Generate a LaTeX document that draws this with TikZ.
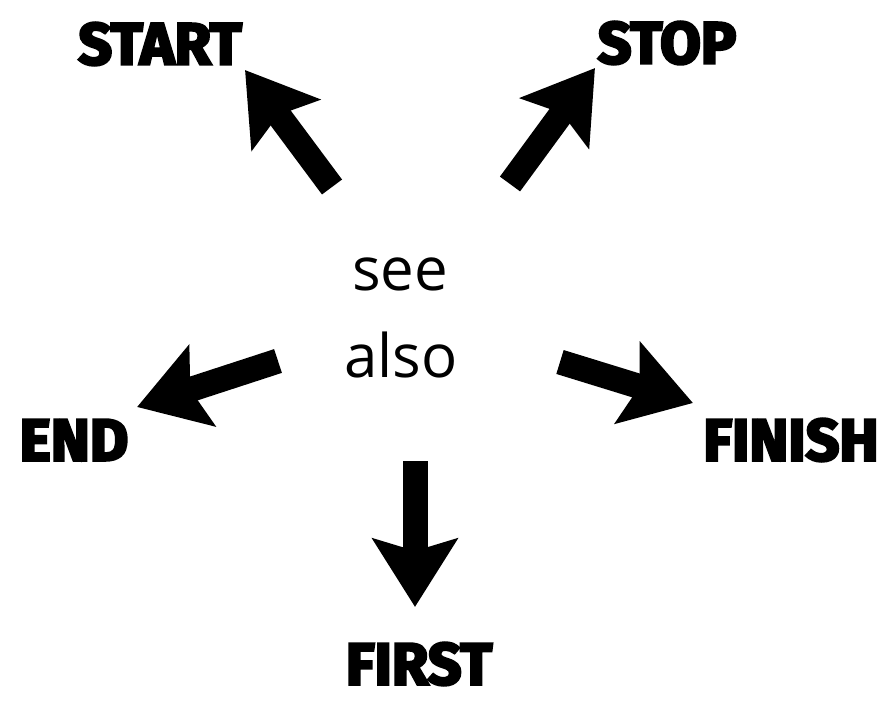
\documentclass[tikz,border=0pt]{standalone}
\usepackage{fontspec}
\setmainfont{Open Sans}
\newfontfamily\heavyfont{Fira Sans}
\usetikzlibrary{arrows.meta}
\tikzset{
  lbl/.style={font=\heavyfont\bfseries\fontsize{59}{59}\selectfont, inner sep=0pt,
    execute at begin node={\special{pdf:literal direct 2 Tr 2.6 w}},
    execute at end node={\special{pdf:literal direct 0 Tr}}},
  word/.style={font=\fontsize{60}{60}\selectfont, inner sep=0pt, anchor=base},
  fat/.style={line width=25pt, -{Stealth[length=68pt,width=84pt,inset=12pt]}}
}
\begin{document}
\begin{tikzpicture}[x=1pt,y=-1pt]
		\useasboundingbox (0,0) rectangle (879,701);
		% middle words
		\node[word] (see) at (400,290){see};
		\node[word] (also) at (401,377){also};
		% labels
		\node[lbl] (start) at (160,44){START};
		\node[lbl] (stop) at (667,43){STOP};
		\node[lbl] (end) at (74,440){END};
		\node[lbl] (finish) at (791,440){FINISH};
		\node[lbl] (first) at (419,664){FIRST};
		% arrow ends
		\coordinate (t1) at (332,187); \coordinate (h1) at (245,70);
		\coordinate (t2) at (510,184); \coordinate (h2) at (595,68);
		\coordinate (t3) at (278,361); \coordinate (h3) at (137,407);
		\coordinate (t4) at (560,362); \coordinate (h4) at (693,403);
		\coordinate (t5) at (415,461); \coordinate (h5) at (415,607);
		\draw[fat] (t1) -- (h1);
		\draw[fat] (t2) -- (h2);
		\draw[fat] (t3) -- (h3);
		\draw[fat] (t4) -- (h4);
		\draw[fat] (t5) -- (h5);
	\end{tikzpicture}
\end{document}
